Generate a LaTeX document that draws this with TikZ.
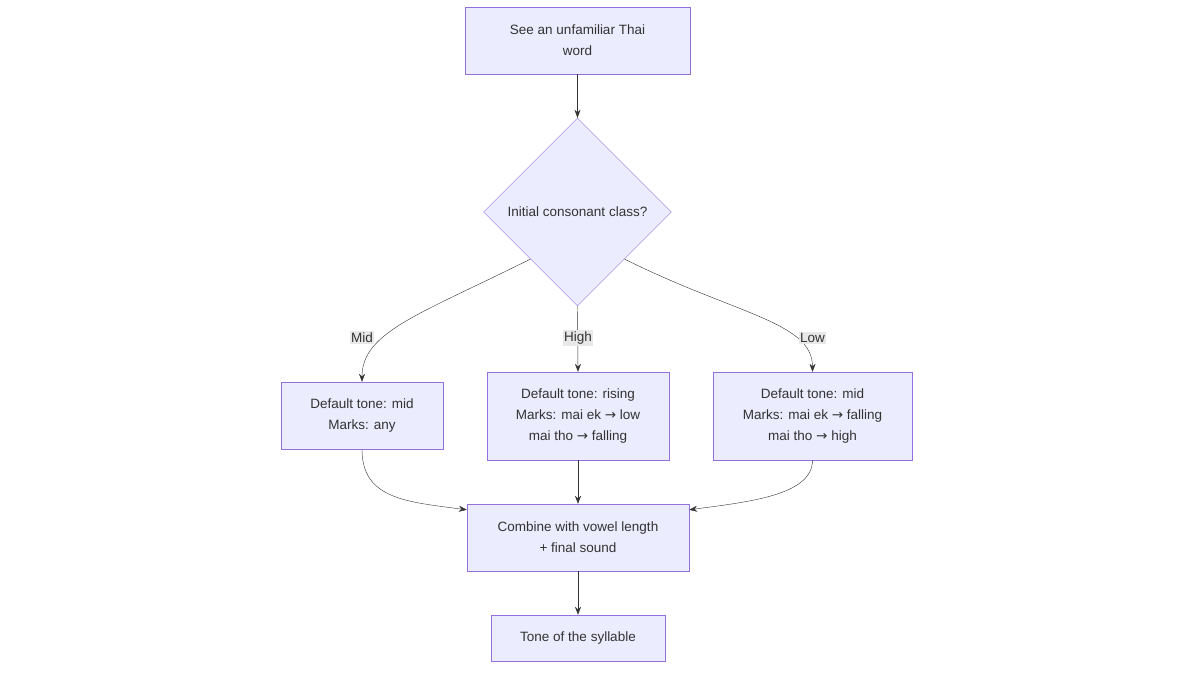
\documentclass[tikz,border=0pt]{standalone}
\usepackage{fontspec}
\setmainfont{Liberation Sans}
\newfontfamily\arrfont{DejaVu Sans}
\usetikzlibrary{shapes.geometric,arrows.meta}
\definecolor{boxfill}{HTML}{ECECFF}
\definecolor{boxline}{HTML}{9370DB}
\definecolor{edge}{HTML}{333333}
\definecolor{lblbg}{HTML}{E8E8E8}
\newcommand{\ra}{{\arrfont →}}
\begin{document}
\begin{tikzpicture}[x=1pt, y=-1pt,
    every node/.style={font=\fontsize{13.5}{21}\selectfont, text=edge},
    box/.style={draw=boxline, fill=boxfill, align=center, inner sep=0pt},
    arr/.style={draw=edge, -{Stealth[length=8pt,width=6pt]}},
    lbl/.style={fill=lblbg, inner sep=1.5pt}]
    \useasboundingbox (0,0) rectangle (1200,675);
    % --- Nodes ---
    \node[box, minimum width=225, minimum height=67] (start) at (577.5,40.5) {See an unfamiliar Thai\\word};
    \node[box, diamond, minimum size=188] (dia) at (577.5,212) {Initial consonant class?};
    \node[box, minimum width=162, minimum height=67] (mid) at (362,415.5) {Default tone: mid\\Marks: any};
    \node[box, minimum width=182, minimum height=88] (high) at (578,416) {Default tone: rising\\Marks: mai ek \ra{} low\\mai tho \ra{} falling};
    \node[box, minimum width=199, minimum height=88] (low) at (812.5,416) {Default tone: mid\\Marks: mai ek \ra{} falling\\mai tho \ra{} high};
    \node[box, minimum width=222, minimum height=67] (comb) at (578,537.5) {Combine with vowel length\\+ final sound};
    \node[box, minimum width=174, minimum height=46] (tone) at (578,638) {Tone of the syllable};
    % ---

    % --- Connectors ---
    \draw[arr] (start) -- (dia);
    \draw[arr] (dia.south west) .. controls +(-110,55) and +(0,-50) .. (mid.north);
    \draw[arr] (dia.south) -- (high.north);
    \draw[arr] (dia.south east) .. controls +(110,55) and +(0,-50) .. (low.north);
    \node[lbl] (lmid) at ([yshift=44pt]mid.north) {Mid};
    \node[lbl] (lhigh) at ([yshift=34pt]high.north) {High};
    \node[lbl] (llow) at ([yshift=34pt]low.north) {Low};
    \draw[arr] (mid.south) .. controls +(0,50) and +(-60,-8) .. ([yshift=-6pt]comb.north west);
    \draw[arr] (high) -- (comb);
    \draw[arr] (low.south) .. controls +(0,35) and +(60,-8) .. ([yshift=-6pt]comb.north east);
    \draw[arr] (comb) -- (tone);
    % ---
\end{tikzpicture}
\end{document}
